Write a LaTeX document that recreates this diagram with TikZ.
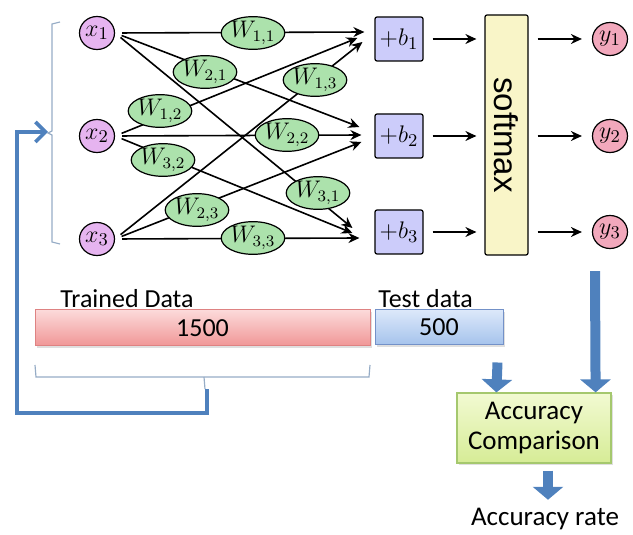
\documentclass[tikz,border=0pt]{standalone}
\usepackage{fontspec}
\newfontfamily\calfont{Carlito}
\newfontfamily\arialfont{Liberation Sans}
\usetikzlibrary{shapes.geometric,arrows.meta,calc,shadows}

\definecolor{inpurple}{RGB}{230,180,240}
\definecolor{outpink}{RGB}{242,168,188}
\definecolor{wgreen}{RGB}{172,226,172}
\definecolor{biasblue}{RGB}{204,204,250}
\definecolor{softyellow}{RGB}{249,245,200}
\definecolor{blockblue}{RGB}{79,129,189}
\definecolor{bracegray}{RGB}{150,172,198}
\definecolor{traintop}{RGB}{252,218,218}
\definecolor{trainbot}{RGB}{240,150,150}
\definecolor{trainline}{RGB}{222,130,130}
\definecolor{testtop}{RGB}{220,232,250}
\definecolor{testbot}{RGB}{165,195,236}
\definecolor{testline}{RGB}{115,145,200}
\definecolor{acctop}{RGB}{242,250,210}
\definecolor{accbot}{RGB}{214,236,150}
\definecolor{accline}{RGB}{165,200,110}

\tikzset{
    innode/.style={ellipse, draw, line width=0.6pt, fill=inpurple, minimum width=17.5pt, minimum height=16.5pt, inner sep=0pt, font=\fontsize{13}{15}\selectfont},
    outnode/.style={innode, fill=outpink},
    wnode/.style={ellipse, draw, line width=0.6pt, fill=wgreen, minimum width=25pt, minimum height=15pt, inner sep=0pt, font=\fontsize{11.5}{13}\selectfont},
    biasbox/.style={draw, line width=0.6pt, fill=biasblue, rounded corners=1pt, minimum width=24pt, minimum height=22pt, inner sep=0pt, font=\fontsize{13}{15}\selectfont},
    conn/.style={-{Stealth[length=5.5pt,width=5pt]}, line width=0.8pt},
    bracket/.style={draw=bracegray, line width=0.6pt},
    blockarrow/.style={draw=blockblue, line width=5pt, -{Triangle[length=6.5pt,width=15pt]}},
    databar/.style={draw, line width=0.5pt, inner sep=0pt, font=\calfont\fontsize{13}{15}\selectfont, drop shadow={shadow xshift=0.8pt, shadow yshift=-0.8pt, opacity=0.25}},
    sans/.style={inner sep=0pt, font=\calfont\fontsize{13}{15}\selectfont}
}

\begin{document}
\begin{tikzpicture}[x=0.5pt, y=-0.5pt]
    \useasboundingbox (0,0) rectangle (633,535);

    % inputs, biases, outputs
    \node[innode] (x1) at (97,33) {$x_1$};
    \node[innode] (x2) at (97,136) {$x_2$};
    \node[innode] (x3) at (97,239) {$x_3$};

    \node[biasbox] (b1) at (399,39) {$+b_1$};
    \node[biasbox] (b2) at (399,136) {$+b_2$};
    \node[biasbox] (b3) at (399,232) {$+b_3$};

    \node[draw, line width=0.6pt, fill=softyellow, rounded corners=1pt, minimum width=21.5pt, minimum height=120pt, inner sep=0pt, font=\arialfont\fontsize{16.5}{18}\selectfont] (sm) at (506.5,135) {\rotatebox{-90}{softmax}};

    \node[outnode] (y1) at (610,39) {$y_1$};
    \node[outnode] (y2) at (610,136) {$y_2$};
    \node[outnode] (y3) at (610,232) {$y_3$};

    % weighted connections
    \draw[conn, shorten <=3.5pt] (x1.east) -- ($(b1.west)+(-10,-7)$);
    \draw[conn, shorten <=3.5pt] (x2.east) -- ($(b1.west)+(-17,-1)$);
    \draw[conn, shorten <=3.5pt] (x3.east) -- ($(b1.west)+(-12,3)$);
    \draw[conn, shorten <=3.5pt] (x1.east) -- ($(b2.west)+(-15,-9)$);
    \draw[conn, shorten <=3.5pt] (x2.east) -- ($(b2.west)+(-13,-1)$);
    \draw[conn, shorten <=3.5pt] (x3.east) -- ($(b2.west)+(-13,6)$);
    \draw[conn, shorten <=3.5pt] (x1.east) -- ($(b3.west)+(-22,-4)$);
    \draw[conn, shorten <=3.5pt] (x2.east) -- ($(b3.west)+(-22,1)$);
    \draw[conn, shorten <=3.5pt] (x3.east) -- ($(b3.west)+(-15,6)$);

    \node[wnode] (w11) at (253,33) {$W_{1,1}$};
    \node[wnode] (w21) at (205,72) {$W_{2,1}$};
    \node[wnode] (w31) at (318,193) {$W_{3,1}$};
    \node[wnode] (w12) at (160,111) {$W_{1,2}$};
    \node[wnode] (w22) at (287,135) {$W_{2,2}$};
    \node[wnode] (w32) at (163,160) {$W_{3,2}$};
    \node[wnode] (w13) at (315,80) {$W_{1,3}$};
    \node[wnode] (w23) at (197,210) {$W_{2,3}$};
    \node[wnode] (w33) at (253,238) {$W_{3,3}$};

    % bias -> softmax -> outputs
    \draw[conn, shorten <=4.5pt, shorten >=4pt] (b1.east) -- (b1.east -| sm.west);
    \draw[conn, shorten <=4.5pt, shorten >=4pt] (b2.east) -- (b2.east -| sm.west);
    \draw[conn, shorten <=4.5pt, shorten >=4pt] (b3.east) -- (b3.east -| sm.west);
    \draw[conn, shorten <=4.5pt, shorten >=5pt] (y1 -| sm.east) -- (y1.west);
    \draw[conn, shorten <=4.5pt, shorten >=5pt] (y2 -| sm.east) -- (y2.west);
    \draw[conn, shorten <=4.5pt, shorten >=5pt] (y3 -| sm.east) -- (y3.west);

    % data split
    \node[databar, top color=traintop, bottom color=trainbot, draw=trainline, minimum width=167.5pt, minimum height=18pt] (train) at (202.5,328) {1500};
    \node[databar, top color=testtop, bottom color=testbot, draw=testline, minimum width=64pt, minimum height=17.5pt] (test) at (439,327.5) {500};
    \node[sans, anchor=base west] (trainlbl) at (60,307) {Trained Data};
    \node[sans, anchor=base west] (testlbl) at (378,307) {Test data};

    % braces and feedback
    \draw[bracket] (60,22) -- (52,24) -- (52,131) -- (48,133) -- (52,135) -- (52,242) -- (60,244);
    \coordinate (lbrace) at (48,132);
    \draw[bracket] (35,365) -- (36,377) -- (369,377) -- (370,365);
    \draw[bracket] (204,377) -- (205,389);
    \coordinate (brmid) at (207,389);
    \draw[draw=blockblue, line width=1.8pt, -{Straight Barb[length=5pt,width=10pt]}] (brmid) -- ++(0,24) -| ($(lbrace)+(-31,0)$) -- (lbrace);

    % accuracy
    \node[draw=accline, line width=0.6pt, top color=acctop, bottom color=accbot, minimum width=77pt, minimum height=35pt, align=center, inner sep=0pt, font=\calfont\fontsize{13.5}{15}\selectfont, drop shadow={shadow xshift=0.8pt, shadow yshift=-0.8pt, opacity=0.25}] (acc) at (534,428) {Accuracy\\Comparison};
    \draw[blockarrow] ($(test.south east)+(-6,17)$) -- ($(acc.north west)+(40,0)$);
    \draw[blockarrow] ($(y3.south)+(-15,22)$) -- ($(acc.north east)+(-16,0)$);
    \node[sans, font=\calfont\fontsize{13.5}{15}\selectfont] (rate) at (545,519) {Accuracy rate};
    \draw[blockarrow] ($(acc.south)+(14,7)$) -- ($(rate.north)+(3,-8)$);
\end{tikzpicture}
\end{document}
